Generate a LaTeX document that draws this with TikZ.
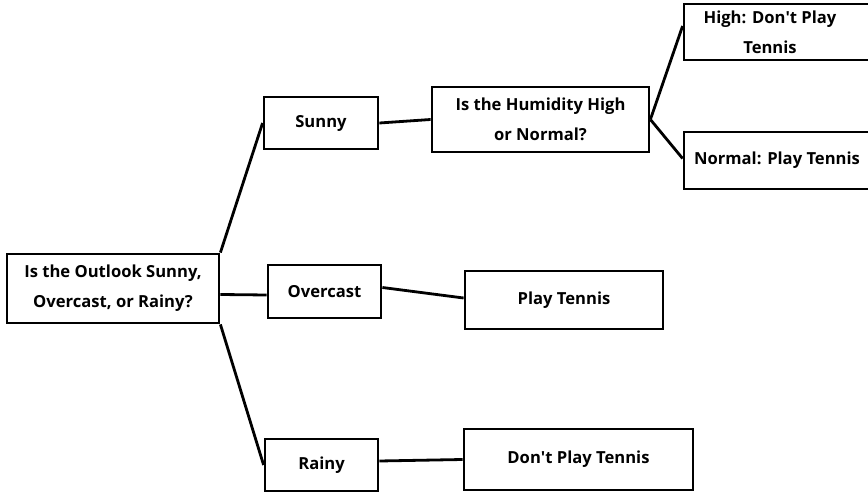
\documentclass[tikz,border=0pt]{standalone}
\usepackage{fontspec}
\setmainfont{Open Sans}
\begin{document}
\begin{tikzpicture}[x=1pt,y=-1pt,
  box/.style={draw=black, line width=2.8pt, fill=white, inner sep=0pt, align=center,
    font=\fontsize{16.6}{30}\selectfont\bfseries, text=black},
  conn/.style={line width=2.8pt, draw=black}]
\useasboundingbox (0,0) rectangle (868,494);
\clip (0,0) rectangle (868,494);
\fill[white] (0,0) rectangle (868,494);
\node[box, minimum width=212pt, minimum height=69pt] (root) at (113,288.5) {Is the Outlook Sunny,\\Overcast, or Rainy?};
\node[box, minimum width=114pt, minimum height=52pt] (sunny) at (321,123) {Sunny};
\node[box, minimum width=217pt, minimum height=65pt] (hum) at (540.5,119.5) {Is the Humidity High\\or Normal?};
\node[box, minimum width=186pt, minimum height=56pt] (high) at (777,32) {High: Don\textquotesingle t Play\hspace*{14pt}\\Tennis\hspace*{14pt}};
\node[box, minimum width=186pt, minimum height=57pt] (normal) at (777,160.5) {Normal: Play Tennis};
\node[box, minimum width=113pt, minimum height=53pt] (overcast) at (324.5,291.5) {Overcast};
\node[box, minimum width=198pt, minimum height=58pt] (play) at (564,300) {Play Tennis};
\node[box, minimum width=113pt, minimum height=52pt] (rainy) at (321.5,465) {Rainy};
\node[box, minimum width=229pt, minimum height=61pt] (dont) at (578.5,459.5) {Don\textquotesingle t Play Tennis};
\draw[conn] (root.north east) -- (sunny.west);
\draw[conn] ([yshift=-6pt]root.east) -- ([yshift=-3.5pt]overcast.west);
\draw[conn] (root.south east) -- (rainy.west);
\draw[conn] (sunny.east) -- (hum.west);
\draw[conn] (hum.east) -- ([yshift=6pt]high.west);
\draw[conn] (hum.east) -- ([yshift=2pt]normal.west);
\draw[conn] ([yshift=4pt]overcast.east) -- ([yshift=2pt]play.west);
\draw[conn] ([yshift=4pt]rainy.east) -- (dont.west);
\end{tikzpicture}
\end{document}
